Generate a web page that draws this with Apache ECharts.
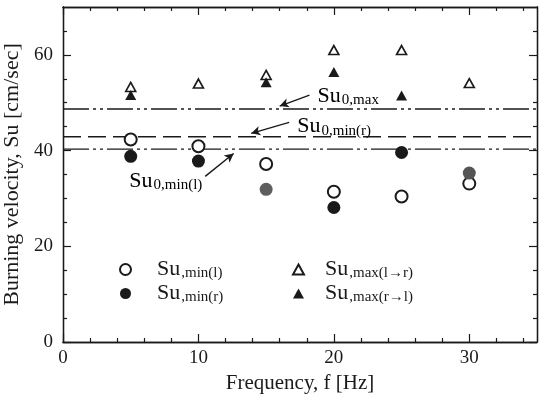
<!DOCTYPE html>
<html><head><meta charset="utf-8">
<script src="https://cdn.jsdelivr.net/npm/echarts@6/dist/echarts.min.js"></script>
<style>html,body{margin:0;padding:0;background:#fff}#c{width:539px;height:396px}</style>
</head><body><div id="c"></div>
<script>
// ---- data ----
const freq = [5, 10, 15, 20, 25, 30];
const minL = [42.3, 40.9, 37.2, 31.4, 30.4, 33.1];          // open circles
const minR = [38.8, 37.8, 31.9, 28.1, 39.6, 35.3];          // filled circles
const minRColors = ['#1a1a1a', '#1a1a1a', '#5e5e5e', '#1a1a1a', '#1a1a1a', '#555555'];
const maxLR = [53.3, 54.0, 55.8, 61.0, 61.0, 54.1];         // open triangles
const maxRLx = [5, 15, 20, 25];
const maxRL = [51.6, 54.3, 56.4, 51.5];                     // filled triangles
const su0 = { max: 48.7, minR: 42.9, minL: 40.3 };
const xTicks = [0, 10, 20, 30];
const yTicks = [0, 20, 40, 60];
const xMinor = [2, 4, 6, 8, 12, 14, 16, 18, 22, 24, 26, 28, 32, 34];
const yMinor = [5, 10, 15, 25, 30, 35, 45, 50, 55, 65];
// annotation anchors in data space
const notes = [
  { sub: '0,max',    text: [18.8, 51.3], from: [18.2, 51.6], to: [16.0, 49.3] },
  { sub: '0,min(r)', text: [17.3, 45.0], from: [16.7, 45.9], to: [13.9, 43.6] },
  { sub: '0,min(l)', text: [4.9, 33.6],  from: [10.5, 34.6], to: [12.6, 39.4] }
];

const FONT = '"Liberation Serif", "DejaVu Serif", serif';
const INK = '#1a1a1a';
const subRich = {
  a: { fontFamily: FONT, fontSize: 22, color: INK, lineHeight: 24 },
  b: { fontFamily: FONT, fontSize: 15, color: INK, lineHeight: 16, padding: [8, 0, 0, 1] }
};
const legRich = pad => ({
  a: { fontFamily: FONT, fontSize: 22, color: INK, lineHeight: 24, padding: [0, 0, 0, pad] },
  b: { fontFamily: FONT, fontSize: 15, color: INK, lineHeight: 16, padding: [8, 0, 0, 1] }
});

const chart = echarts.init(document.getElementById('c'), null, { renderer: 'canvas' });
const lineAx = { show: true, onZero: false, lineStyle: { color: INK, width: 1.3 } };
function xAx(pos, vals, len, labels, extra) {
  return Object.assign({
    type: 'value', position: pos, min: 0, max: 35, gridIndex: 0,
    axisLine: lineAx, splitLine: { show: false },
    axisTick: { show: true, inside: true, length: len, customValues: vals, lineStyle: { color: INK, width: 1.2 } },
    axisLabel: labels ? { show: true, customValues: xTicks, fontFamily: FONT, fontSize: 19, color: INK, margin: 7 } : { show: false }
  }, extra || {});
}
function yAx(pos, vals, len, labels, extra) {
  return Object.assign({
    type: 'value', position: pos, min: 0, max: 70, gridIndex: 0,
    axisLine: lineAx, splitLine: { show: false },
    axisTick: { show: true, inside: true, length: len, customValues: vals, lineStyle: { color: INK, width: 1.2 } },
    axisLabel: labels ? { show: true, customValues: yTicks, fontFamily: FONT, fontSize: 19, color: INK, margin: 10 } : { show: false }
  }, extra || {});
}

const hLine = (name, v, dash) => ({
  name, type: 'line', data: [[0, v], [35, v]], symbol: 'none', silent: true,
  lineStyle: { color: INK, width: 1.4, type: dash }, z: 1
});

const option = {
  animation: false,
  backgroundColor: '#fff',
  grid: { left: 63, right: 2, top: 7, bottom: 54, containLabel: false, outerBoundsMode: 'none' },
  xAxis: [
    xAx('bottom', xTicks, 8, true, { name: 'Frequency, f [Hz]', nameLocation: 'middle', nameGap: 29,
      nameTextStyle: { fontFamily: FONT, fontSize: 21, color: INK } }),
    xAx('bottom', xMinor, 4, false),
    xAx('top', xTicks, 8, false),
    xAx('top', xMinor, 4, false)
  ],
  yAxis: [
    yAx('left', yTicks, 8, true, { name: 'Burning velocity, Su [cm/sec]', nameLocation: 'middle', nameGap: 34, nameRotate: 90,
      nameTextStyle: { fontFamily: FONT, fontSize: 22, color: INK } }),
    yAx('left', yMinor, 4, false),
    yAx('right', yTicks, 8, false),
    yAx('right', yMinor, 4, false)
  ],
  legend: [
    { orient: 'vertical', left: 114, top: 253, itemWidth: 11, itemHeight: 11, itemGap: 1,
      data: ['Su,min(l)', 'Su,min(r)'], selectedMode: false,
      formatter: n => '{a|Su}{b|' + n.slice(2) + '}', textStyle: { rich: legRich(21) } },
    { orient: 'vertical', left: 287, top: 253, itemWidth: 11, itemHeight: 10, itemGap: 1,
      data: ['Su,max(l→r)', 'Su,max(r→l)'], selectedMode: false,
      formatter: n => '{a|Su}{b|' + n.slice(2) + '}', textStyle: { rich: legRich(16) } }
  ],
  series: [
    hLine('Su0,max', su0.max, [26, 4, 3, 4, 3, 4]),
    hLine('Su0,min(r)', su0.minR, [18, 7]),
    hLine('Su0,min(l)', su0.minL, [26, 4, 3, 4, 3, 4]),
    {
      name: 'arrows', type: 'line', data: [], silent: true,
      markLine: {
        silent: true, animation: false, label: { show: false },
        lineStyle: { color: INK, width: 1.4, type: 'solid' },
        symbolSize: [7, 9],
        data: notes.map(n => [{ coord: n.from, symbol: 'none' }, { coord: n.to, symbol: 'arrow' }])
      }
    },
    { name: 'Su,min(l)', type: 'scatter', symbol: 'circle', symbolSize: 12, z: 3,
      itemStyle: { color: '#fff', borderColor: INK, borderWidth: 2, opacity: 1 },
      data: freq.map((f, i) => [f, minL[i]]) },
    { name: 'Su,min(r)', type: 'scatter', symbol: 'circle', symbolSize: 13, z: 4,
      itemStyle: { color: INK, opacity: 1 },
      data: freq.map((f, i) => ({ value: [f, minR[i]], itemStyle: { color: minRColors[i], opacity: 1 } })) },
    { name: 'Su,max(l→r)', type: 'scatter', symbol: 'triangle', symbolSize: [10, 9], z: 3,
      itemStyle: { color: '#fff', borderColor: INK, borderWidth: 1.6, opacity: 1 },
      data: freq.map((f, i) => [f, maxLR[i]]) },
    { name: 'Su,max(r→l)', type: 'scatter', symbol: 'triangle', symbolSize: [11, 10], z: 4,
      itemStyle: { color: INK, opacity: 1 },
      data: maxRLx.map((f, i) => [f, maxRL[i]]) }
  ]
};
chart.setOption(option);

chart.setOption({
  graphic: notes.map(n => {
    const p = chart.convertToPixel({ xAxisIndex: 0, yAxisIndex: 0 }, n.text);
    return { type: 'text', x: p[0], y: p[1], z: 10,
      style: { text: '{a|Su}{b|' + n.sub + '}', rich: subRich, verticalAlign: 'middle', align: 'left' } };
  })
});
</script>
</body></html>
